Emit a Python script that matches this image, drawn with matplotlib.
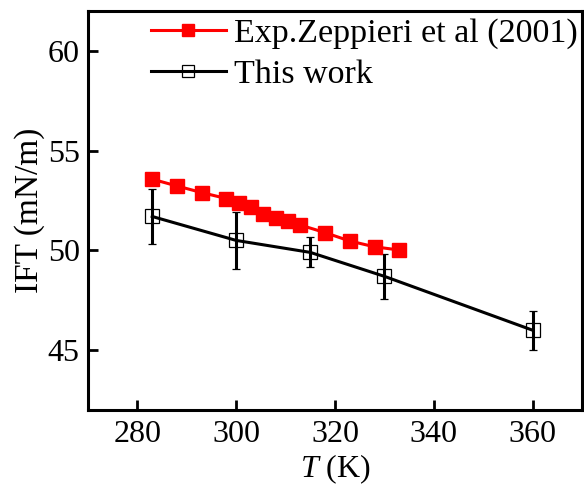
import numpy as np
import matplotlib
matplotlib.use('Agg')
import matplotlib.pyplot as plt

plt.rcParams['font.family'] = 'Liberation Serif'
plt.rcParams['mathtext.fontset'] = 'custom'
plt.rcParams['mathtext.rm'] = 'Liberation Serif'
plt.rcParams['mathtext.it'] = 'Liberation Serif:italic'

# Experimental data (Zeppieri et al. 2001)
t_exp = [283, 288, 293, 298, 300.5, 303, 305.5, 308, 310.5, 313, 318, 323, 328, 333]
ift_exp = [53.57, 53.23, 52.90, 52.60, 52.36, 52.18, 51.84, 51.64, 51.47, 51.27, 50.89, 50.47, 50.18, 50.02]

# Simulation results
t_sim = [283, 300, 315, 330, 360]
ift_sim = [51.7, 50.5, 49.9, 48.7, 46.0]
err_sim = [1.38, 1.43, 0.75, 1.12, 0.97]

fig = plt.figure(figsize=(5.84, 4.88), dpi=100)
ax = fig.add_axes([88/584, 78/488, 494/584, 399/488])

ax.plot(t_exp, ift_exp, '-s', color='red', lw=2.2, ms=9.5, mfc='red', mec='red',
        label='Exp.Zeppieri et al (2001)', zorder=4)
ax.errorbar(t_sim, ift_sim, yerr=err_sim, fmt='-s', color='black', lw=2.2, ms=9.5,
            mfc='none', mec='black', mew=0.9, elinewidth=2.2, capsize=3, capthick=2,
            label='This work', zorder=3)

ax.set_xlim(270, 370)
ax.set_ylim(42, 62)
ax.set_xticks([280, 300, 320, 340, 360])
ax.set_yticks([45, 50, 55, 60])
ax.tick_params(direction='in', length=7, width=2, labelsize=23)
ax.tick_params(axis='y', pad=6)
ax.tick_params(axis='x', pad=7)
for s in ax.spines.values():
    s.set_linewidth(2.2)

ax.set_xlabel(r'$T$ (K)', fontsize=23, labelpad=3)
ax.set_ylabel('IFT (mN/m)', fontsize=24, labelpad=2)

h, l = ax.get_legend_handles_labels()
h = [h[0], h[1][0]]
leg = ax.legend(h, l, loc='upper left', bbox_to_anchor=(63/494, 0.982), frameon=False,
                fontsize=24.5, borderpad=0, borderaxespad=0, handlelength=2.2,
                handletextpad=0.25, labelspacing=0.3, markerscale=0.85)

fig.savefig('out.png', dpi=100)
